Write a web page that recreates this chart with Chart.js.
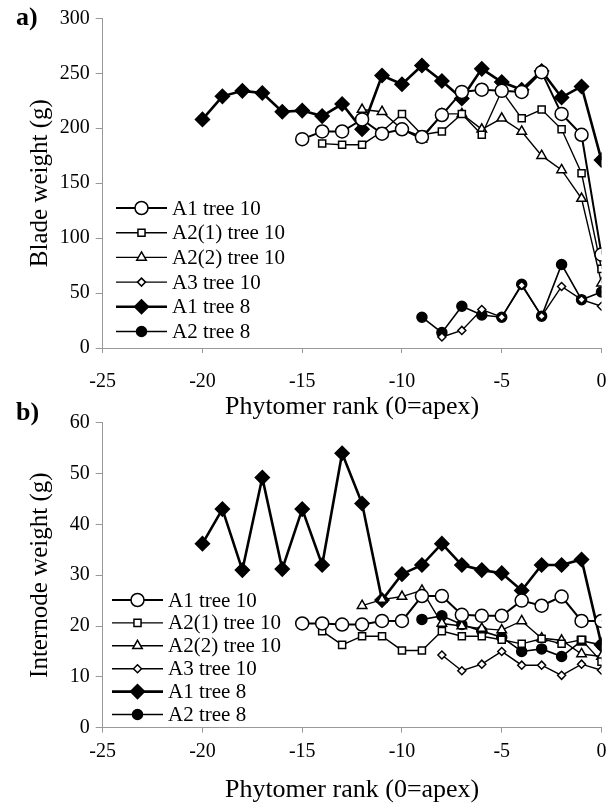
<!DOCTYPE html>
<html>
<head>
<meta charset="utf-8">
<script src="https://cdn.jsdelivr.net/npm/chart.js@4.4.1/dist/chart.umd.min.js"></script>
<style>
  body { margin: 0; background: #fff; }
  .wrap { position: relative; width: 610px; height: 809px; }
  canvas { position: absolute; left: 0; }
  #chartA { top: 0; }
  #chartB { top: 395px; }
</style>
</head>
<body>
<div class="wrap">
  <canvas id="chartA" width="610" height="420"></canvas>
  <canvas id="chartB" width="610" height="414"></canvas>
</div>
<script>
// phytomer rank, -20 ... 0 (0 = apex)
const ranks = [-20, -19, -18, -17, -16, -15, -14, -13, -12, -11, -10, -9, -8, -7, -6, -5, -4, -3, -2, -1, 0];
const seriesNames = ['A1 tree 10', 'A2(1) tree 10', 'A2(2) tree 10', 'A3 tree 10', 'A1 tree 8', 'A2 tree 8'];
const xTicks = [-25, -20, -15, -10, -5, 0];

// a) blade weight (g)
const bladeA1t10 = [null, null, null, null, null, 190, 197, 197, 208, 195, 199, 192, 212, 233, 235, 234, 233, 251, 213, 194, 85];
const bladeA21t10 = [null, null, null, null, null, null, 186, 185, 185, 197, 213, 194, 197, 213, 194, 234, 209, 217, 199, 159, 72];
const bladeA22t10 = [null, null, null, null, null, null, null, null, 217, 215, 199, 190, 213, 213, 199, 209, 197, 175, 162, 136, 59];
const bladeA3t10 = [null, null, null, null, null, null, null, null, null, null, null, null, 10, 16, 35, 28, 57, 29, 56, 44, 38];
const bladeA1t8 = [208, 229, 234, 232, 215, 216, 211, 222, 199, 248, 240, 257, 243, 227, 254, 242, 235, 252, 228, 238, 171];
const bladeA2t8 = [null, null, null, null, null, null, null, null, null, null, null, 28, 14, 38, 30, 28, 58, 29, 76, 44, 51];
const bladeTicks = [0, 50, 100, 150, 200, 250, 300];

// b) internode weight (g)
const nodeA1t10 = [null, null, null, null, null, 20.5, 20.5, 20.3, 20.3, 21, 21, 25.9, 25.9, 22.2, 22, 22, 25, 24, 25.8, 21, 21];
const nodeA21t10 = [null, null, null, null, null, null, 19, 16.3, 18, 18, 15.2, 15.2, 19, 18, 18, 17.3, 16.5, 17.5, 16.5, 17.3, 13];
const nodeA22t10 = [null, null, null, null, null, null, null, null, 24, 25.2, 25.8, 27, 20.5, 20, 19.5, 19.2, 21, 17.6, 17.2, 14.5, 14];
const nodeA3t10 = [null, null, null, null, null, null, null, null, null, null, null, null, 14.3, 11.2, 12.5, 15, 12.3, 12.3, 10.3, 12.5, 11.3];
const nodeA1t8 = [36.2, 43, 31, 49.2, 31.2, 43, 32, 54, 44.1, 25.1, 30.2, 32, 36.2, 32, 31, 30.4, 27, 32, 32, 33.1, 16.3];
const nodeA2t8 = [null, null, null, null, null, null, null, null, null, null, null, 21.3, 22, 20.3, 19, 17.8, 15, 15.5, 14, 17.1, 16.3];
const nodeTicks = [0, 10, 20, 30, 40, 50, 60];
// in b) the A2 tree 8 point at rank -1 is printed with a filled square
const nodeA2t8SquareRanks = [-1];

// marker styles, same order as seriesNames
const styles = [
  { pointStyle: 'circle', radius: 6.5, fill: '#fff', lineW: 2 },
  { pointStyle: 'rect', radius: 5, fill: '#fff', lineW: 1.4 },
  { pointStyle: 'triangle', radius: 5.5, fill: '#fff', lineW: 1.4 },
  { pointStyle: 'rectRot', radius: 4, fill: '#fff', lineW: 1.4 },
  { pointStyle: 'rectRot', radius: 7, fill: '#000', lineW: 2.6 },
  { pointStyle: 'circle', radius: 5, fill: '#000', lineW: 1.6 },
];

const SERIF = "'Liberation Serif', 'DejaVu Serif', serif";

function toPoints(values) {
  return ranks.map((r, i) => ({ x: r, y: values[i] })).filter((p) => p.y !== null);
}

function makeDatasets(list) {
  return list.map((values, i) => ({
    label: seriesNames[i],
    data: toPoints(values),
    borderColor: '#000',
    backgroundColor: styles[i].fill,
    borderWidth: styles[i].lineW,
    pointStyle: styles[i].pointStyle,
    pointRadius: styles[i].radius,
    pointBackgroundColor: styles[i].fill,
    pointBorderColor: '#000',
    pointBorderWidth: 1.5,
    tension: 0,
  }));
}

// legend drawn inside the plot: line + marker + text
const innerLegend = {
  id: 'innerLegend',
  afterDatasetsDraw(chart, args, opts) {
    const ctx = chart.ctx;
    ctx.save();
    chart.data.datasets.forEach((ds, i) => {
      const y = opts.y + i * opts.rowH;
      ctx.strokeStyle = '#000';
      ctx.lineWidth = ds.borderWidth;
      ctx.beginPath();
      ctx.moveTo(opts.x, y);
      ctx.lineTo(opts.x + opts.lineLen, y);
      ctx.stroke();
      ctx.fillStyle = styles[i].fill;
      ctx.lineWidth = ds.pointBorderWidth;
      Chart.helpers.drawPoint(ctx, { pointStyle: styles[i].pointStyle, radius: styles[i].radius, rotation: 0, borderWidth: ds.pointBorderWidth }, opts.x + opts.lineLen / 2, y);
      ctx.fillStyle = '#000';
      ctx.font = '21px ' + SERIF;
      ctx.textBaseline = 'middle';
      ctx.textAlign = 'left';
      ctx.fillText(ds.label, opts.x + opts.lineLen + 5, y + 1);
    });
    ctx.restore();
  },
};

// panel letter a) / b)
const panelLetter = {
  id: 'panelLetter',
  afterDraw(chart, args, opts) {
    const ctx = chart.ctx;
    ctx.save();
    ctx.fillStyle = '#000';
    ctx.font = 'bold 26px ' + SERIF;
    ctx.textBaseline = 'middle';
    ctx.fillText(opts.text, opts.x, opts.y);
    ctx.restore();
  },
};

function makeChart(id, cfg) {
  return new Chart(document.getElementById(id), {
    type: 'line',
    data: { datasets: makeDatasets(cfg.series) },
    options: {
      responsive: false,
      animation: false,
      layout: { padding: { top: cfg.padTop, right: 7.3, left: 0, bottom: 0 } },
      plugins: {
        legend: { display: false },
        tooltip: { enabled: false },
        innerLegend: cfg.legend,
        panelLetter: cfg.letter,
      },
      scales: {
        x: {
          type: 'linear',
          min: -25,
          max: 0,
          afterBuildTicks: (s) => { s.ticks = xTicks.map((v) => ({ value: v })); },
          afterFit: (s) => {
            s.height = cfg.xHeight;
            s.paddingLeft = 0;
            s.paddingRight = 0;
          },
          ticks: { color: '#000', font: { family: SERIF, size: 20 }, padding: cfg.xTickPad, maxRotation: 0 },
          grid: { drawOnChartArea: false, drawTicks: true, tickLength: 5, color: '#999' },
          border: { color: '#999', width: 1 },
          title: {
            display: true,
            text: 'Phytomer rank (0=apex)',
            color: '#000',
            font: { family: SERIF, size: 26, lineHeight: 1 },
            padding: { top: 0, bottom: cfg.xTitlePad },
          },
        },
        y: {
          min: 0,
          max: cfg.yMax,
          afterBuildTicks: (s) => { s.ticks = cfg.yTicks.map((v) => ({ value: v })); },
          afterFit: (s) => {
            s.width = 102.7;
            s.paddingTop = 0;
            s.paddingBottom = 0;
          },
          ticks: { color: '#000', font: { family: SERIF, size: 20 }, padding: 6 },
          grid: { drawOnChartArea: false, drawTicks: true, tickLength: 7, color: '#999' },
          border: { color: '#999', width: 1 },
          title: {
            display: true,
            text: cfg.yTitle,
            color: '#000',
            font: { family: SERIF, size: 25, lineHeight: 1 },
            padding: { top: 28, bottom: 0 },
          },
        },
      },
    },
    plugins: [innerLegend, panelLetter],
  });
}

makeChart('chartA', {
  series: [bladeA1t10, bladeA21t10, bladeA22t10, bladeA3t10, bladeA1t8, bladeA2t8],
  yMax: 300,
  yTicks: bladeTicks,
  yTitle: 'Blade weight (g)',
  padTop: 18.3,
  xHeight: 72,
  xTickPad: 17,
  xTitlePad: 0,
  legend: { x: 116, y: 208, rowH: 24.7, lineLen: 51 },
  letter: { text: 'a)', x: 16, y: 18 },
});

const chartB = makeChart('chartB', {
  series: [nodeA1t10, nodeA21t10, nodeA22t10, nodeA3t10, nodeA1t8, nodeA2t8],
  yMax: 60,
  yTicks: nodeTicks,
  yTitle: 'Internode weight (g)',
  padTop: 27.7,
  xHeight: 81.3,
  xTickPad: 7,
  xTitlePad: 6,
  legend: { x: 112, y: 205, rowH: 22.9, lineLen: 51 },
  letter: { text: 'b)', x: 16, y: 18 },
});

// odd marker on A2 tree 8 in b)
const a2t8 = chartB.data.datasets[5];
a2t8.pointStyle = a2t8.data.map((p) => (nodeA2t8SquareRanks.includes(p.x) ? 'rect' : 'circle'));
a2t8.pointRadius = a2t8.data.map((p) => (nodeA2t8SquareRanks.includes(p.x) ? 6 : styles[5].radius));
chartB.update();
</script>
</body>
</html>
